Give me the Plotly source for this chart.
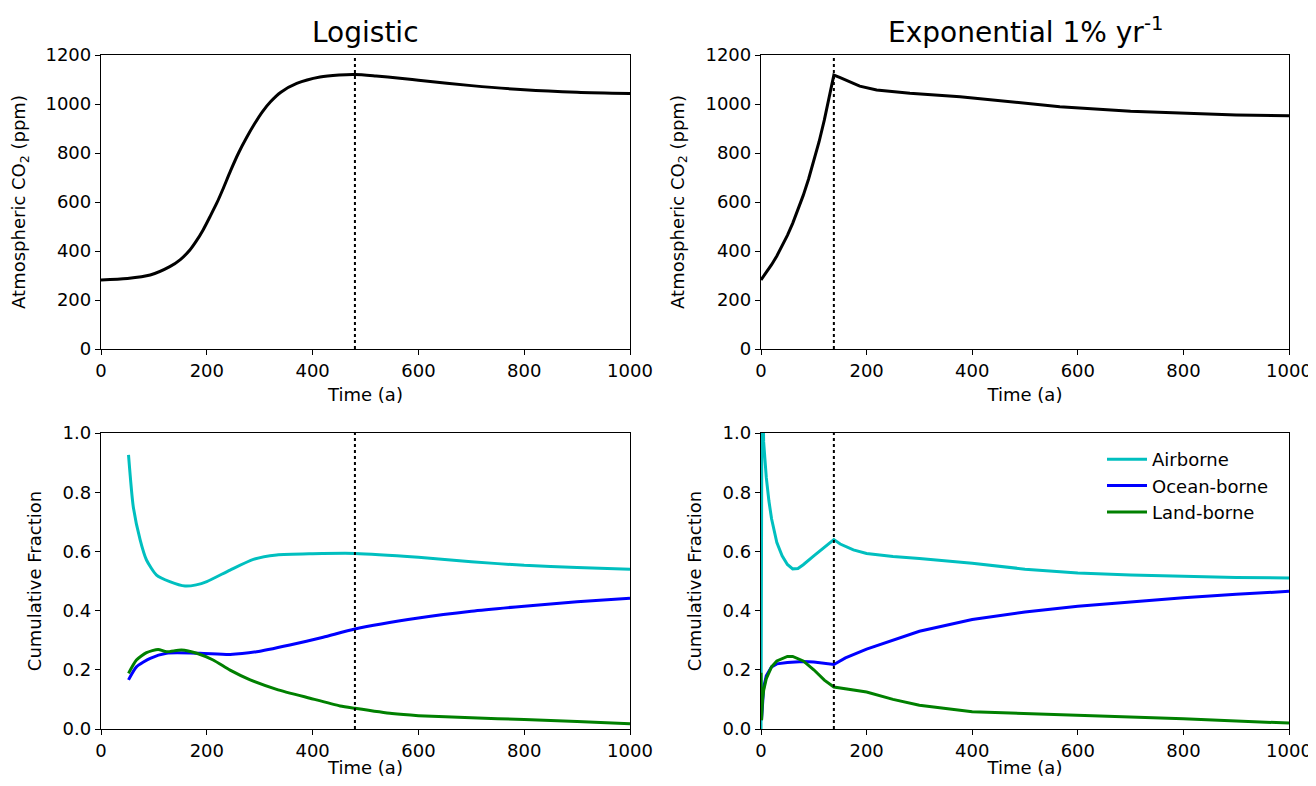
import plotly.graph_objects as go

# ---------------- data ----------------
# Top-left: logistic emission scenario, atmospheric CO2 (ppm)
log_t = [0, 50, 93, 130, 150, 168, 180, 193, 206, 219, 230, 245, 260, 275, 290, 305, 320, 340, 370, 414, 450, 480, 520, 565, 600, 700, 800, 900, 1000]
log_co2 = [282, 288, 302, 336, 365, 404, 440, 486, 540, 596, 650, 728, 800, 862, 918, 968, 1008, 1048, 1084, 1110, 1118, 1120, 1114, 1105, 1097, 1075, 1058, 1048, 1043]
log_end = 480

# Top-right: exponential 1%/yr scenario
exp_t = [0, 10, 20, 30, 40, 50, 60, 70, 80, 90, 100, 110, 120, 130, 138, 150, 162, 187, 219, 282, 377, 472, 566, 700, 800, 900, 1000]
exp_co2 = [282, 311, 344, 380, 420, 464, 513, 567, 627, 693, 765, 846, 935, 1033, 1118, 1108, 1097, 1073, 1057, 1044, 1030, 1009, 989, 970, 961, 955, 952]
exp_end = 138

# Bottom-left: cumulative fractions, logistic
fl_t_air = [52, 61, 74, 86, 105, 130, 159, 180, 200, 244, 288, 332, 400, 480, 600, 700, 800, 900, 1000]
fl_air = [0.926, 0.751, 0.639, 0.571, 0.52, 0.498, 0.483, 0.487, 0.498, 0.537, 0.573, 0.588, 0.592, 0.593, 0.58, 0.565, 0.553, 0.546, 0.54]
fl_t_ocean = [52, 67, 93, 124, 187, 244, 294, 357, 420, 480, 600, 700, 800, 900, 1000]
fl_ocean = [0.166, 0.21, 0.239, 0.256, 0.256, 0.252, 0.261, 0.284, 0.31, 0.338, 0.375, 0.398, 0.415, 0.43, 0.442]
fl_t_land = [52, 67, 86, 108, 124, 152, 181, 212, 244, 282, 332, 395, 452, 480, 550, 600, 700, 800, 900, 1000]
fl_land = [0.188, 0.233, 0.258, 0.269, 0.261, 0.267, 0.256, 0.233, 0.199, 0.166, 0.134, 0.104, 0.078, 0.07, 0.052, 0.045, 0.038, 0.032, 0.025, 0.018]

# Bottom-right: cumulative fractions, exponential
fe_t_air = [0, 2, 5, 10, 15, 20, 30, 40, 50, 60, 70, 80, 100, 120, 138, 150, 175, 200, 250, 300, 400, 500, 600, 700, 800, 900, 1000]
fe_air = [0.0, 1.3, 0.97, 0.85, 0.77, 0.71, 0.63, 0.585, 0.556, 0.541, 0.542, 0.555, 0.585, 0.615, 0.64, 0.625, 0.605, 0.593, 0.583, 0.576, 0.56, 0.54, 0.527, 0.52, 0.515, 0.512, 0.51]
fe_t_ocean = [1, 3, 5, 10, 20, 30, 50, 80, 100, 138, 160, 200, 250, 300, 400, 500, 600, 700, 800, 900, 1000]
fe_ocean = [0.03, 0.10, 0.14, 0.18, 0.21, 0.22, 0.225, 0.228, 0.226, 0.218, 0.24, 0.27, 0.30, 0.33, 0.37, 0.395, 0.415, 0.43, 0.443, 0.455, 0.465]
fe_t_land = [0, 1, 3, 5, 10, 20, 30, 50, 60, 80, 100, 120, 138, 200, 250, 300, 400, 500, 600, 700, 800, 900, 1000]
fe_land = [0.19, 0.03, 0.10, 0.13, 0.17, 0.21, 0.23, 0.245, 0.245, 0.23, 0.20, 0.165, 0.142, 0.125, 0.10, 0.08, 0.058, 0.052, 0.048, 0.042, 0.035, 0.027, 0.02]

titles = ["Logistic", "Exponential 1% yr<sup>-1</sup>"]
series_names = ["Airborne", "Ocean-borne", "Land-borne"]
series_colors = ["#00BFBF", "#0000FF", "#008000"]

# ---------------- figure ----------------
OFF = 8  # page body margin
W, H = 1306, 786 - 2 * OFF
FONT = "DejaVu Sans, sans-serif"

def dx(a, b):
    return [(a - OFF) / W, (b - OFF) / W]

def dy(top, bottom):
    return [1 - (bottom - OFF) / H, 1 - (top - OFF) / H]

fig = go.Figure()

lw = 3
fig.add_trace(go.Scatter(x=log_t, y=log_co2, mode="lines", line=dict(color="black", width=lw, shape="spline", smoothing=0.8),
                         xaxis="x", yaxis="y", showlegend=False))
fig.add_trace(go.Scatter(x=exp_t, y=exp_co2, mode="lines", line=dict(color="black", width=lw),
                         xaxis="x2", yaxis="y2", showlegend=False))

for ts, vs, name, col in zip([fl_t_air, fl_t_ocean, fl_t_land], [fl_air, fl_ocean, fl_land], series_names, series_colors):
    fig.add_trace(go.Scatter(x=ts, y=vs, mode="lines", line=dict(color=col, width=lw, shape="spline", smoothing=0.6),
                             xaxis="x3", yaxis="y3", showlegend=False, name=name))
for ts, vs, name, col in zip([fe_t_air, fe_t_ocean, fe_t_land], [fe_air, fe_ocean, fe_land], series_names, series_colors):
    fig.add_trace(go.Scatter(x=ts, y=vs, mode="lines", line=dict(color=col, width=lw),
                             xaxis="x4", yaxis="y4", showlegend=True, name=name))

axis_common = dict(showline=True, linecolor="black", linewidth=1.3, mirror=True, ticks="outside",
                   ticklen=5, tickwidth=1.3, tickcolor="black", showgrid=False, zeroline=False,
                   tickfont=dict(family=FONT, size=18, color="black"), automargin=False,
                   ticklabeloverflow="allow")

xdoms = [dx(101, 630), dx(761, 1289)]
ytop = dy(55, 349)
ybot = dy(433, 729)

def xaxis_cfg(dom, anchor):
    return dict(axis_common, domain=dom, anchor=anchor, range=[0, 1000], tickvals=[0, 200, 400, 600, 800, 1000],
                title=dict(text="Time (a)", font=dict(family=FONT, size=18, color="black"), standoff=8))

def yaxis_cfg(dom, anchor, rng, vals, fmt, title):
    return dict(axis_common, domain=dom, anchor=anchor, range=rng, tickvals=vals, tickformat=fmt,
                title=dict(text=title, font=dict(family=FONT, size=18, color="black"), standoff=16))

co2_ticks = [0, 200, 400, 600, 800, 1000, 1200]
frac_ticks = [0, 0.2, 0.4, 0.6, 0.8, 1.0]

fig.update_layout(
    width=W, height=H, margin=dict(l=0, r=0, t=0, b=0),
    paper_bgcolor="white", plot_bgcolor="white",
    font=dict(family=FONT, color="black"),
    xaxis=xaxis_cfg(xdoms[0], "y"),
    yaxis=yaxis_cfg(ytop, "x", [0, 1200], co2_ticks, "d", "Atmospheric CO<sub>2</sub> (ppm)"),
    xaxis2=xaxis_cfg(xdoms[1], "y2"),
    yaxis2=yaxis_cfg(ytop, "x2", [0, 1200], co2_ticks, "d", "Atmospheric CO<sub>2</sub> (ppm)"),
    xaxis3=xaxis_cfg(xdoms[0], "y3"),
    yaxis3=yaxis_cfg(ybot, "x3", [0, 1.0], frac_ticks, ".1f", "Cumulative Fraction"),
    xaxis4=xaxis_cfg(xdoms[1], "y4"),
    yaxis4=yaxis_cfg(ybot, "x4", [0, 1.0], frac_ticks, ".1f", "Cumulative Fraction"),
    legend=dict(x=(1102 - OFF) / W, y=1 - (441 - OFF) / H, xanchor="left", yanchor="top", bgcolor="rgba(0,0,0,0)",
                font=dict(family=FONT, size=18, color="black"), tracegroupgap=0, itemwidth=40),
    showlegend=True,
)

# vertical dotted lines at end of emissions
for xa, ya, xv in [("x", "y", log_end), ("x2", "y2", exp_end), ("x3", "y3", log_end), ("x4", "y4", exp_end)]:
    fig.add_shape(type="line", xref=xa, yref=f"{ya} domain", x0=xv, x1=xv, y0=0, y1=1,
                  line=dict(color="black", width=2, dash="dot"))

# panel titles
for i, t in enumerate(titles):
    cx = (xdoms[i][0] + xdoms[i][1]) / 2
    fig.add_annotation(text=t, x=cx, y=ytop[1], xref="paper", yref="paper", xanchor="center", yanchor="bottom",
                       yshift=4, showarrow=False, font=dict(family=FONT, size=28, color="black"))

fig.write_html("out.html")
